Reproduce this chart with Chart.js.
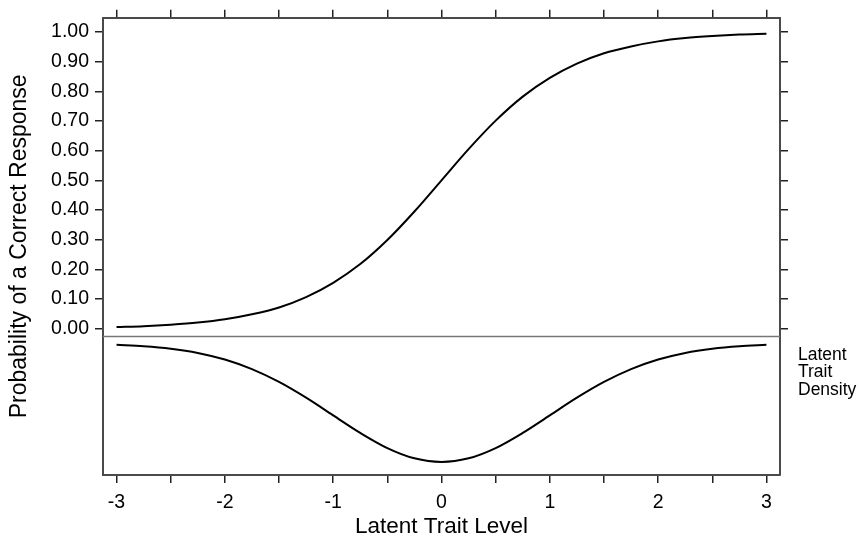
<!DOCTYPE html>
<html>
<head>
<meta charset="utf-8">
<script src="https://cdn.jsdelivr.net/npm/chart.js@4"></script>
<style>
  body { margin: 0; background: #fff; }
  .root_chart { width: 860px; height: 538px; }
</style>
</head>
<body>
<div class="root_chart">
  <canvas id="irt_canvas"></canvas>
</div>
<script>
// latent trait grid (theta)
const traitLevels = [-3, -2.75, -2.5, -2.25, -2, -1.75, -1.5, -1.25, -1, -0.75, -0.5, -0.25,
  0, 0.25, 0.5, 0.75, 1, 1.25, 1.5, 1.75, 2, 2.25, 2.5, 2.75, 3];

// item characteristic curve
const probCorrect = [0.006, 0.009, 0.014, 0.021, 0.032, 0.049, 0.072, 0.107, 0.155, 0.218, 0.299, 0.395,
  0.5, 0.605, 0.701, 0.782, 0.845, 0.893, 0.928, 0.951, 0.968, 0.979, 0.986, 0.991, 0.994];

// latent trait density (drawn hanging down below the divider)
const traitDensity = [0.0044, 0.0091, 0.0175, 0.0317, 0.054, 0.0863, 0.1295, 0.1826, 0.242, 0.3011, 0.3521, 0.3867,
  0.3989, 0.3867, 0.3521, 0.3011, 0.242, 0.1826, 0.1295, 0.0863, 0.054, 0.0317, 0.0175, 0.0091, 0.0044];

const xTicks = [-3, -2.5, -2, -1.5, -1, -0.5, 0, 0.5, 1, 1.5, 2, 2.5, 3];
const yTicks = [0, 0.1, 0.2, 0.3, 0.4, 0.5, 0.6, 0.7, 0.8, 0.9, 1.0];
const densityLabel = ["Latent", "Trait", "Density"];
const dividerValue = -0.0257;

const FONT = "'Liberation Sans', Arial, sans-serif";
const frameColor = "#4a4a4a";
const tickColor = "#222";

const setTicks = (values) => (scale) => {
  scale.ticks = values.map((v) => ({ value: v }));
};

const gridOpts = {
  display: true,
  drawOnChartArea: false,
  drawTicks: true,
  tickLength: 8,
  color: tickColor,
  lineWidth: 1.5
};
const borderOpts = { display: true, color: frameColor, width: 2 };

const panelExtras = {
  id: "panelExtras",
  afterDatasetsDraw(chart) {
    const { ctx, chartArea, scales } = chart;
    const yDiv = scales.y.getPixelForValue(dividerValue);
    ctx.save();
    ctx.strokeStyle = "#777";
    ctx.lineWidth = 1.5;
    ctx.beginPath();
    ctx.moveTo(chartArea.left, yDiv);
    ctx.lineTo(chartArea.right, yDiv);
    ctx.stroke();

    ctx.fillStyle = "#000";
    ctx.font = "17.5px " + FONT;
    ctx.textAlign = "left";
    ctx.textBaseline = "alphabetic";
    densityLabel.forEach((t, i) => {
      ctx.fillText(t, chartArea.right + 18, yDiv + 23.5 + i * 17.5);
    });
    ctx.restore();
  }
};

const ctx = document.getElementById("irt_canvas");
new Chart(ctx, {
  type: "line",
  data: {
    datasets: [
      {
        label: "P(correct)",
        data: traitLevels.map((t, i) => ({ x: t, y: probCorrect[i] })),
        yAxisID: "y",
        borderColor: "#000",
        borderWidth: 2,
        pointRadius: 0,
        cubicInterpolationMode: "monotone",
        fill: false
      },
      {
        label: "Density",
        data: traitLevels.map((t, i) => ({ x: t, y: traitDensity[i] })),
        yAxisID: "yDensity",
        borderColor: "#000",
        borderWidth: 2,
        pointRadius: 0,
        cubicInterpolationMode: "monotone",
        fill: false
      }
    ]
  },
  options: {
    responsive: true,
    maintainAspectRatio: false,
    animation: false,
    layout: { padding: 0 },
    plugins: {
      legend: { display: false },
      tooltip: { enabled: false }
    },
    scales: {
      x: {
        type: "linear",
        position: "bottom",
        min: -3.125,
        max: 3.125,
        afterBuildTicks: setTicks(xTicks),
        afterFit: (s) => { s.height = 63; },
        grid: gridOpts,
        border: borderOpts,
        ticks: {
          padding: 8,
          color: "#000",
          font: { family: FONT, size: 19.5 },
          maxRotation: 0,
          autoSkip: false,
          callback: (v) => (Number.isInteger(v) ? String(v) : "")
        },
        title: {
          display: true,
          text: "Latent Trait Level",
          color: "#000",
          font: { family: FONT, size: 22.5, lineHeight: 1 },
          padding: { top: 0, bottom: 0 }
        }
      },
      xTop: {
        type: "linear",
        position: "top",
        min: -3.125,
        max: 3.125,
        afterBuildTicks: setTicks(xTicks),
        afterFit: (s) => { s.height = 13; },
        grid: gridOpts,
        border: borderOpts,
        ticks: { display: false }
      },
      y: {
        type: "linear",
        position: "left",
        min: -0.4923,
        max: 1.0477,
        afterBuildTicks: setTicks(yTicks),
        afterFit: (s) => { s.width = 103; },
        grid: gridOpts,
        border: borderOpts,
        ticks: {
          padding: 6,
          color: "#000",
          font: { family: FONT, size: 19.5 },
          autoSkip: false,
          callback: (v) => v.toFixed(2)
        },
        title: {
          display: true,
          text: "Probability of a Correct Response",
          color: "#000",
          font: { family: FONT, size: 23, lineHeight: 1 },
          padding: { top: 8.5, bottom: 0 }
        }
      },
      yRight: {
        type: "linear",
        position: "right",
        min: -0.4923,
        max: 1.0477,
        afterBuildTicks: setTicks(yTicks),
        afterFit: (s) => { s.width = 80; },
        grid: gridOpts,
        border: borderOpts,
        ticks: { display: false }
      },
      yDensity: {
        type: "linear",
        display: false,
        reverse: true,
        min: -1.0971,
        max: 0.4429
      }
    }
  },
  plugins: [panelExtras]
});
</script>
</body>
</html>
